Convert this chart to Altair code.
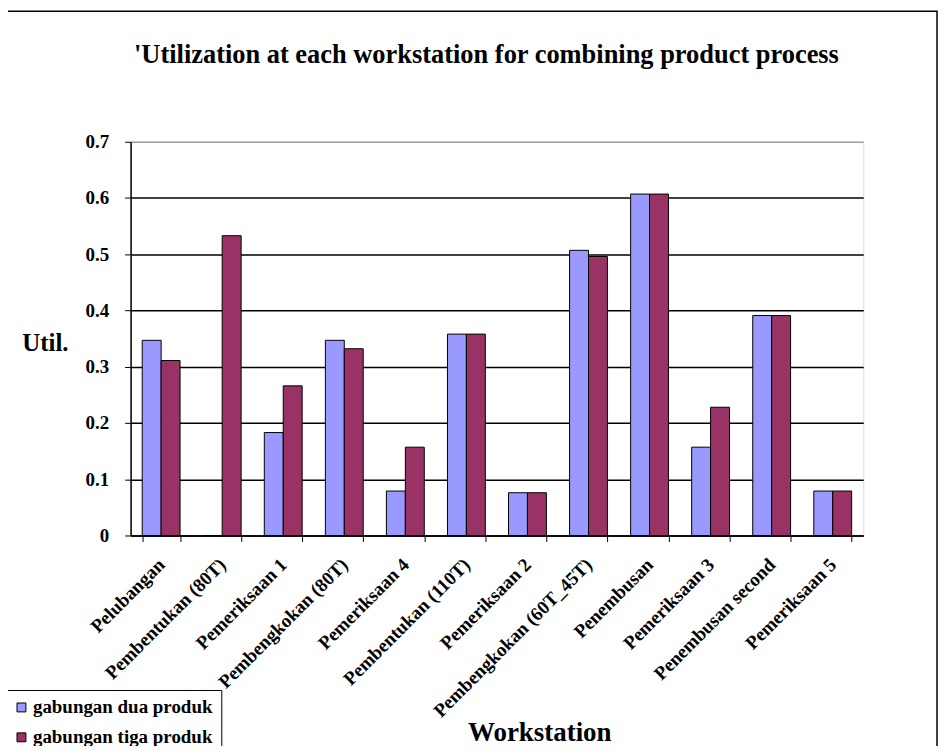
import altair as alt
import pandas as pd

workstations = [
    "Pelubangan", "Pembentukan (80T)", "Pemeriksaan 1", "Pembengkokan (80T)",
    "Pemeriksaan 4", "Pembentukan (110T)", "Pemeriksaan 2", "Pembengkokan (60T_45T)",
    "Penembusan", "Pemeriksaan 3", "Penembusan second", "Pemeriksaan 5",
]
series = ["gabungan dua produk", "gabungan tiga produk"]
dua_produk = [0.347, 0.0, 0.183, 0.347, 0.079, 0.358, 0.076, 0.507, 0.607, 0.157, 0.391, 0.079]
tiga_produk = [0.311, 0.533, 0.266, 0.332, 0.157, 0.358, 0.076, 0.496, 0.607, 0.228, 0.391, 0.079]
y_ticks = [0, 0.1, 0.2, 0.3, 0.4, 0.5, 0.6, 0.7]
colors = ["#9999ff", "#993366"]
title_text = "'Utilization at each workstation for combining product process"

rows = []
for i, w in enumerate(workstations):
    rows.append({"Workstation": w, "Series": series[0], "Util": dua_produk[i]})
    rows.append({"Workstation": w, "Series": series[1], "Util": tiga_produk[i]})
df = pd.DataFrame(rows)

FONT = "Liberation Serif"

bars = alt.Chart(df).mark_bar(stroke="black", strokeWidth=1).encode(
    x=alt.X("Workstation:N", sort=workstations,
            scale=alt.Scale(paddingInner=0.38, paddingOuter=0.19),
            axis=alt.Axis(title="Workstation", labelAngle=-45, labelAlign="right",
                          labelBaseline="middle", tickBand="extent", labelPadding=20,
                          tickSize=6, tickColor="black", domainColor="black", domainWidth=1.5,
                          labelFont=FONT, labelFontWeight="bold", labelFontSize=19,
                          labelColor="black", labelLimit=400,
                          titleFont=FONT, titleFontWeight="bold", titleFontSize=27,
                          titleColor="black", titleX=410, titleY=198,
                          titleAlign="center", titleBaseline="middle")),
    xOffset=alt.XOffset("Series:N", sort=series, scale=alt.Scale(paddingInner=0, paddingOuter=0)),
    y=alt.Y("Util:Q", scale=alt.Scale(domain=[0, 0.7], nice=False),
            axis=alt.Axis(title="Util.", values=y_ticks, format=".1~f",
                          grid=True,
                          gridColor={"condition": {"test": "datum.value >= 0.7", "value": "#a0a0a0"}, "value": "black"},
                          gridWidth=1.5,
                          tickSize=6, tickColor="black", domainColor="black", domainWidth=1.5,
                          labelFont=FONT, labelFontWeight="bold", labelFontSize=19,
                          labelColor="black", labelPadding=16,
                          titleFont=FONT, titleFontWeight="bold", titleFontSize=25,
                          titleColor="black", titleAngle=0, titleX=-86, titleY=201,
                          titleAlign="center", titleBaseline="middle")),
    color=alt.Color("Series:N", sort=series,
                    scale=alt.Scale(domain=series, range=colors),
                    legend=alt.Legend(title=None, orient="none", legendX=-127, legendY=550,
                                      symbolType="square", symbolSize=80,
                                      symbolStrokeColor="black", symbolStrokeWidth=1,
                                      labelFont=FONT, labelFontWeight="bold", labelFontSize=19,
                                      labelColor="black", labelLimit=400, labelOffset=2,
                                      strokeColor="black", fillColor="white",
                                      padding=8, rowPadding=10)),
)

frame = alt.Chart(pd.DataFrame({"f": [0]})).mark_rect(
    filled=False, stroke="black", strokeWidth=1.5, clip=False
).encode(x=alt.value(-127), x2=alt.value(809), y=alt.value(-131), y2=alt.value(640))

title = alt.Chart(pd.DataFrame({"t": [title_text]})).mark_text(
    font=FONT, fontWeight="bold", fontSize=26.5, color="black",
    align="center", baseline="alphabetic", clip=False
).encode(x=alt.value(357), y=alt.value(-79), text="t:N")

chart = alt.layer(frame, bars, title).properties(
    width=735, height=395,
    autosize=alt.AutoSizeParams(type="none"),
    padding={"left": 123, "top": 133, "right": 75, "bottom": 210},
).configure_view(fill="#c0c0c0", stroke="#a0a0a0", strokeWidth=1.5
).configure(background="white")

chart.save("out.html", embed_options={"renderer": "svg", "actions": False})
